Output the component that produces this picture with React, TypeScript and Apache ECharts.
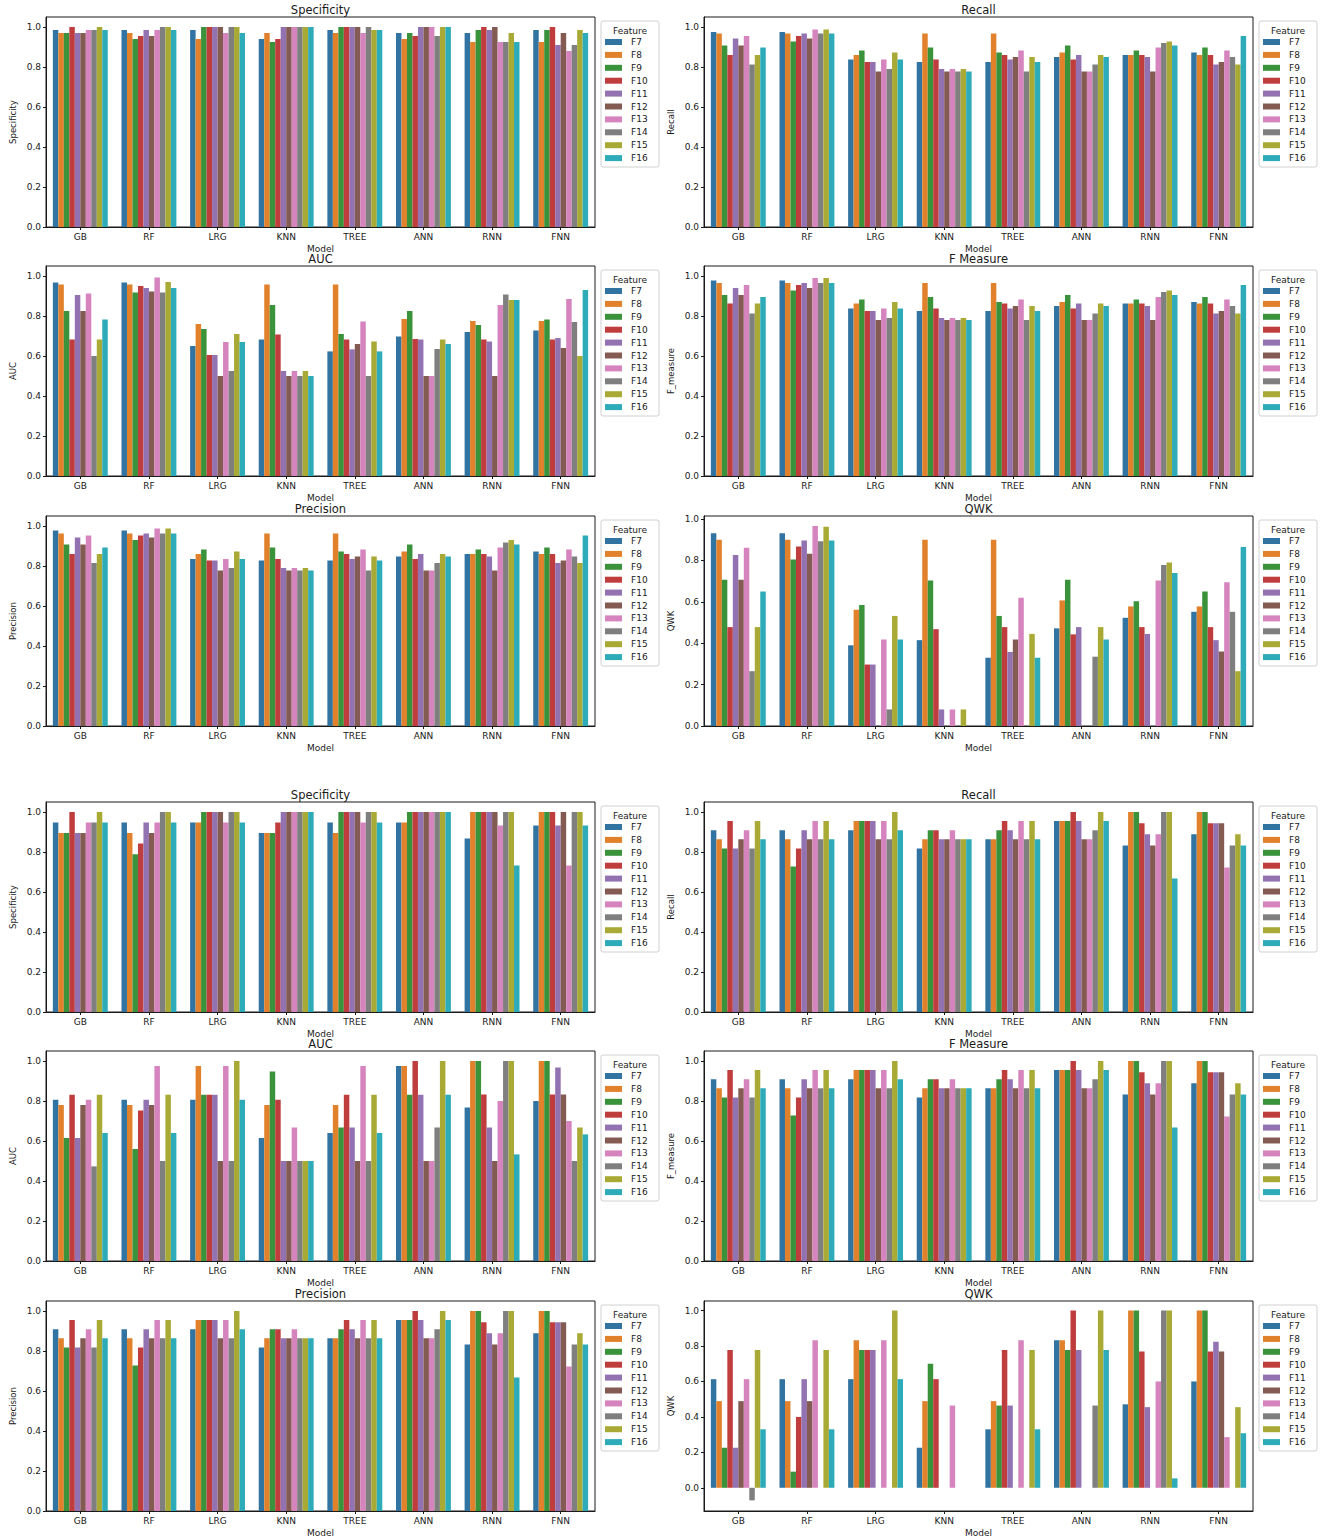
import React, { useEffect, useRef } from "react";
import * as echarts from "echarts";

const models = ["GB", "RF", "LRG", "KNN", "TREE", "ANN", "RNN", "FNN"];
const features = ["F7", "F8", "F9", "F10", "F11", "F12", "F13", "F14", "F15", "F16"];
const yTicks = [0, 0.2, 0.4, 0.6, 0.8, 1.0];

// each row = one model (GB..FNN), columns = F7..F16
const topSpecificity = [
  [0.985, 0.97, 0.97, 1.0, 0.97, 0.97, 0.985, 0.985, 1.0, 0.985],
  [0.985, 0.97, 0.94, 0.955, 0.985, 0.955, 0.985, 1.0, 1.0, 0.985],
  [0.985, 0.94, 1.0, 1.0, 1.0, 1.0, 0.97, 1.0, 1.0, 0.97],
  [0.94, 0.97, 0.925, 0.94, 1.0, 1.0, 1.0, 1.0, 1.0, 1.0],
  [0.985, 0.97, 1.0, 1.0, 1.0, 1.0, 0.97, 1.0, 0.985, 0.985],
  [0.97, 0.94, 0.97, 0.955, 1.0, 1.0, 1.0, 0.955, 1.0, 1.0],
  [0.97, 0.925, 0.985, 1.0, 0.985, 1.0, 0.925, 0.925, 0.97, 0.925],
  [0.985, 0.925, 0.985, 1.0, 0.91, 0.97, 0.88, 0.91, 0.985, 0.97],
];
const topRecall = [
  [0.975, 0.967, 0.908, 0.86, 0.942, 0.908, 0.955, 0.813, 0.86, 0.897],
  [0.975, 0.967, 0.928, 0.955, 0.967, 0.942, 0.988, 0.967, 0.988, 0.967],
  [0.838, 0.86, 0.883, 0.825, 0.825, 0.778, 0.838, 0.79, 0.872, 0.838],
  [0.825, 0.967, 0.897, 0.838, 0.79, 0.778, 0.79, 0.778, 0.79, 0.778],
  [0.825, 0.967, 0.872, 0.86, 0.838, 0.85, 0.883, 0.778, 0.85, 0.825],
  [0.85, 0.872, 0.908, 0.838, 0.86, 0.778, 0.778, 0.813, 0.86, 0.85],
  [0.86, 0.86, 0.883, 0.86, 0.85, 0.778, 0.897, 0.92, 0.928, 0.908],
  [0.872, 0.86, 0.897, 0.86, 0.813, 0.825, 0.883, 0.85, 0.813, 0.955],
];
const topAuc = [
  [0.967, 0.958, 0.825, 0.683, 0.905, 0.825, 0.913, 0.6, 0.683, 0.783],
  [0.967, 0.958, 0.917, 0.95, 0.94, 0.923, 0.992, 0.917, 0.97, 0.94],
  [0.65, 0.76, 0.735, 0.605, 0.605, 0.5, 0.67, 0.525, 0.71, 0.67],
  [0.683, 0.958, 0.855, 0.707, 0.525, 0.5, 0.525, 0.5, 0.525, 0.5],
  [0.623, 0.958, 0.71, 0.683, 0.633, 0.66, 0.772, 0.5, 0.673, 0.623],
  [0.697, 0.785, 0.825, 0.685, 0.683, 0.5, 0.5, 0.635, 0.683, 0.66],
  [0.72, 0.775, 0.755, 0.683, 0.673, 0.5, 0.855, 0.907, 0.88, 0.88],
  [0.727, 0.775, 0.783, 0.683, 0.69, 0.64, 0.885, 0.77, 0.6, 0.93],
];
const topFMeasure = [
  [0.978, 0.965, 0.905, 0.862, 0.94, 0.905, 0.955, 0.813, 0.862, 0.895],
  [0.978, 0.965, 0.927, 0.955, 0.965, 0.94, 0.99, 0.965, 0.99, 0.965],
  [0.838, 0.862, 0.882, 0.825, 0.825, 0.78, 0.838, 0.79, 0.87, 0.838],
  [0.825, 0.965, 0.895, 0.838, 0.79, 0.78, 0.79, 0.78, 0.79, 0.78],
  [0.825, 0.965, 0.87, 0.862, 0.838, 0.85, 0.882, 0.78, 0.85, 0.825],
  [0.85, 0.87, 0.905, 0.838, 0.862, 0.78, 0.78, 0.813, 0.862, 0.85],
  [0.862, 0.862, 0.882, 0.862, 0.85, 0.78, 0.895, 0.92, 0.927, 0.905],
  [0.87, 0.862, 0.895, 0.862, 0.813, 0.825, 0.882, 0.85, 0.813, 0.955],
];
const topPrecision = [
  [0.977, 0.963, 0.907, 0.86, 0.943, 0.907, 0.953, 0.815, 0.86, 0.893],
  [0.977, 0.963, 0.93, 0.953, 0.963, 0.943, 0.987, 0.963, 0.987, 0.963],
  [0.835, 0.86, 0.883, 0.828, 0.828, 0.778, 0.835, 0.79, 0.872, 0.835],
  [0.828, 0.963, 0.893, 0.835, 0.79, 0.778, 0.79, 0.778, 0.79, 0.778],
  [0.828, 0.963, 0.872, 0.86, 0.835, 0.848, 0.883, 0.778, 0.848, 0.828],
  [0.848, 0.872, 0.907, 0.835, 0.86, 0.778, 0.778, 0.815, 0.86, 0.848],
  [0.86, 0.86, 0.883, 0.86, 0.848, 0.778, 0.893, 0.918, 0.93, 0.907],
  [0.872, 0.86, 0.893, 0.86, 0.815, 0.828, 0.883, 0.848, 0.815, 0.953],
];
const topQwk = [
  [0.932, 0.9, 0.707, 0.478, 0.827, 0.707, 0.862, 0.265, 0.478, 0.65],
  [0.932, 0.9, 0.805, 0.868, 0.897, 0.833, 0.967, 0.893, 0.963, 0.897],
  [0.39, 0.562, 0.585, 0.297, 0.297, 0, 0.418, 0.08, 0.532, 0.418],
  [0.415, 0.9, 0.703, 0.468, 0.08, 0, 0.08, 0, 0.08, 0],
  [0.33, 0.9, 0.532, 0.478, 0.358, 0.418, 0.62, 0, 0.445, 0.33],
  [0.472, 0.607, 0.707, 0.443, 0.478, 0, 0, 0.335, 0.478, 0.418],
  [0.523, 0.578, 0.603, 0.478, 0.445, 0, 0.703, 0.778, 0.79, 0.74],
  [0.552, 0.578, 0.65, 0.478, 0.415, 0.36, 0.695, 0.552, 0.265, 0.865],
];
const bottomSpecificity = [
  [0.947, 0.895, 0.895, 1.0, 0.895, 0.895, 0.947, 0.947, 1.0, 0.947],
  [0.947, 0.895, 0.789, 0.842, 0.947, 0.895, 0.947, 1.0, 1.0, 0.947],
  [0.947, 0.947, 1.0, 1.0, 1.0, 1.0, 0.947, 1.0, 1.0, 0.947],
  [0.895, 0.895, 0.895, 0.947, 1.0, 1.0, 1.0, 1.0, 1.0, 1.0],
  [0.947, 0.895, 1.0, 1.0, 1.0, 1.0, 0.947, 1.0, 1.0, 0.947],
  [0.947, 0.947, 1.0, 1.0, 1.0, 1.0, 1.0, 1.0, 1.0, 1.0],
  [0.867, 1.0, 1.0, 1.0, 1.0, 1.0, 0.933, 1.0, 1.0, 0.733],
  [0.933, 1.0, 1.0, 1.0, 0.933, 1.0, 0.733, 1.0, 1.0, 0.933],
];
const bottomRecall = [
  [0.909, 0.864, 0.818, 0.955, 0.818, 0.864, 0.909, 0.818, 0.955, 0.864],
  [0.909, 0.864, 0.727, 0.818, 0.909, 0.864, 0.955, 0.864, 0.955, 0.864],
  [0.909, 0.955, 0.955, 0.955, 0.955, 0.864, 0.955, 0.864, 1.0, 0.909],
  [0.818, 0.864, 0.909, 0.909, 0.864, 0.864, 0.909, 0.864, 0.864, 0.864],
  [0.864, 0.864, 0.909, 0.955, 0.909, 0.864, 0.955, 0.864, 0.955, 0.864],
  [0.955, 0.955, 0.955, 1.0, 0.955, 0.864, 0.864, 0.909, 1.0, 0.955],
  [0.833, 1.0, 1.0, 0.944, 0.889, 0.833, 0.889, 1.0, 1.0, 0.667],
  [0.889, 1.0, 1.0, 0.944, 0.944, 0.944, 0.722, 0.833, 0.889, 0.833],
];
const bottomAuc = [
  [0.806, 0.78, 0.615, 0.831, 0.615, 0.78, 0.806, 0.473, 0.831, 0.64],
  [0.806, 0.78, 0.56, 0.752, 0.806, 0.78, 0.975, 0.5, 0.831, 0.64],
  [0.806, 0.975, 0.831, 0.831, 0.831, 0.5, 0.975, 0.5, 1.0, 0.806],
  [0.615, 0.78, 0.947, 0.806, 0.5, 0.5, 0.667, 0.5, 0.5, 0.5],
  [0.64, 0.78, 0.667, 0.831, 0.667, 0.5, 0.975, 0.5, 0.831, 0.64],
  [0.975, 0.975, 0.831, 1.0, 0.831, 0.5, 0.5, 0.667, 1.0, 0.831],
  [0.767, 1.0, 1.0, 0.833, 0.667, 0.5, 0.8, 1.0, 1.0, 0.533],
  [0.8, 1.0, 1.0, 0.833, 0.967, 0.833, 0.7, 0.5, 0.667, 0.633],
];
const bottomFMeasure = [
  [0.909, 0.864, 0.818, 0.955, 0.818, 0.864, 0.909, 0.818, 0.955, 0.864],
  [0.909, 0.864, 0.727, 0.818, 0.909, 0.864, 0.955, 0.864, 0.955, 0.864],
  [0.909, 0.955, 0.955, 0.955, 0.955, 0.864, 0.955, 0.864, 1.0, 0.909],
  [0.818, 0.864, 0.909, 0.909, 0.864, 0.864, 0.909, 0.864, 0.864, 0.864],
  [0.864, 0.864, 0.909, 0.955, 0.909, 0.864, 0.955, 0.864, 0.955, 0.864],
  [0.955, 0.955, 0.955, 1.0, 0.955, 0.864, 0.864, 0.909, 1.0, 0.955],
  [0.833, 1.0, 1.0, 0.944, 0.889, 0.833, 0.889, 1.0, 1.0, 0.667],
  [0.889, 1.0, 1.0, 0.944, 0.944, 0.944, 0.722, 0.833, 0.889, 0.833],
];
const bottomPrecision = [
  [0.909, 0.864, 0.818, 0.955, 0.818, 0.864, 0.909, 0.818, 0.955, 0.864],
  [0.909, 0.864, 0.727, 0.818, 0.909, 0.864, 0.955, 0.864, 0.955, 0.864],
  [0.909, 0.955, 0.955, 0.955, 0.955, 0.864, 0.955, 0.864, 1.0, 0.909],
  [0.818, 0.864, 0.909, 0.909, 0.864, 0.864, 0.909, 0.864, 0.864, 0.864],
  [0.864, 0.864, 0.909, 0.955, 0.909, 0.864, 0.955, 0.864, 0.955, 0.864],
  [0.955, 0.955, 0.955, 1.0, 0.955, 0.864, 0.864, 0.909, 1.0, 0.955],
  [0.833, 1.0, 1.0, 0.944, 0.889, 0.833, 0.889, 1.0, 1.0, 0.667],
  [0.889, 1.0, 1.0, 0.944, 0.944, 0.944, 0.722, 0.833, 0.889, 0.833],
];
const bottomQwk = [
  [0.613, 0.489, 0.226, 0.778, 0.226, 0.489, 0.613, -0.071, 0.778, 0.33],
  [0.613, 0.489, 0.091, 0.4, 0.613, 0.489, 0.833, 0, 0.778, 0.33],
  [0.613, 0.833, 0.778, 0.778, 0.778, 0, 0.833, 0, 1.0, 0.613],
  [0.226, 0.489, 0.7, 0.613, 0, 0, 0.464, 0, 0, 0],
  [0.33, 0.489, 0.464, 0.778, 0.464, 0, 0.833, 0, 0.778, 0.33],
  [0.833, 0.833, 0.778, 1.0, 0.778, 0, 0, 0.464, 1.0, 0.778],
  [0.471, 1.0, 1.0, 0.769, 0.455, 0, 0.6, 1.0, 1.0, 0.053],
  [0.6, 1.0, 1.0, 0.769, 0.824, 0.769, 0.286, 0, 0.455, 0.308],
];

const panels = [
  { title: "Specificity", yName: "Specificity", data: topSpecificity, min: 0, max: 1.05 },
  { title: "Recall", yName: "Recall", data: topRecall, min: 0, max: 1.05 },
  { title: "AUC", yName: "AUC", data: topAuc, min: 0, max: 1.05 },
  { title: "F Measure", yName: "F_measure", data: topFMeasure, min: 0, max: 1.05 },
  { title: "Precision", yName: "Precision", data: topPrecision, min: 0, max: 1.05 },
  { title: "QWK", yName: "QWK", data: topQwk, min: 0, max: 1.015 },
  { title: "Specificity", yName: "Specificity", data: bottomSpecificity, min: 0, max: 1.05 },
  { title: "Recall", yName: "Recall", data: bottomRecall, min: 0, max: 1.05 },
  { title: "AUC", yName: "AUC", data: bottomAuc, min: 0, max: 1.05 },
  { title: "F Measure", yName: "F_measure", data: bottomFMeasure, min: 0, max: 1.05 },
  { title: "Precision", yName: "Precision", data: bottomPrecision, min: 0, max: 1.05 },
  { title: "QWK", yName: "QWK", data: bottomQwk, min: -0.131, max: 1.054 },
];

const colors = ["#3274a1", "#e1812c", "#3a923a", "#c03d3e", "#9372b2", "#845b53", "#d684bd", "#7f7f7f", "#a9aa35", "#2eabb8"];
const FONT = "DejaVu Sans";
const INK = "#1a1a1a";
const colLeft = [46, 704];
const rowTop = [17, 266, 516, 802, 1051, 1301];
const PW = 549;
const PH = 210;

function buildOption() {
  const grid: any[] = [];
  const xAxis: any[] = [];
  const yAxis: any[] = [];
  const series: any[] = [];
  const legend: any[] = [];
  const graphic: any[] = [];

  panels.forEach((p, i) => {
    const block = Math.floor(i / 6);
    const r = block * 3 + Math.floor((i % 6) / 2);
    const c = i % 2;
    const left = colLeft[c];
    const top = rowTop[r];
    grid.push({
      left, top, width: PW, height: PH, show: true,
      borderColor: INK, borderWidth: 1, backgroundColor: "#fff", z: 0,
    });
    xAxis.push({
      type: "category", gridIndex: i, data: models,
      axisLine: { show: true, onZero: false, lineStyle: { color: INK, width: 1 } },
      axisTick: { show: true, alignWithLabel: true, length: 3, lineStyle: { color: INK } },
      axisLabel: { color: INK, fontSize: 9, fontFamily: FONT, margin: 5 },
      name: "Model", nameLocation: "middle", nameGap: 17,
      nameTextStyle: { color: INK, fontSize: 9, fontFamily: FONT },
      splitLine: { show: false },
    });
    yAxis.push({
      type: "value", gridIndex: i, min: p.min, max: p.max,
      axisLine: { show: true, lineStyle: { color: INK, width: 1 } },
      axisTick: { show: true, length: 3, customValues: yTicks, lineStyle: { color: INK } },
      axisLabel: {
        customValues: yTicks, color: INK, fontSize: 9, fontFamily: FONT, margin: 5,
        formatter: (v: number) => v.toFixed(1),
      },
      splitLine: { show: false },
      name: p.yName, nameLocation: "middle", nameGap: 29, nameRotate: 90,
      nameTextStyle: { color: INK, fontSize: 8.5, fontFamily: FONT },
    });
    features.forEach((f, k) => {
      series.push({
        type: "bar", name: f, xAxisIndex: i, yAxisIndex: i,
        data: p.data.map((row) => row[k]),
        itemStyle: { color: colors[k] },
        barGap: "0%", barCategoryGap: "20%", silent: true,
      });
    });
    const boxX = left + PW + 6;
    const boxY = top + 4;
    graphic.push({
      type: "rect", z: 1, silent: true,
      shape: { x: boxX, y: boxY, width: 58, height: 146, r: 2 },
      style: { fill: "#fff", stroke: "#d0d0d0", lineWidth: 1 },
    });
    graphic.push({
      type: "text", z: 2, silent: true, x: boxX + 29, y: boxY + 10,
      style: { text: "Feature", textAlign: "center", textVerticalAlign: "middle", font: `9px '${FONT}'`, fill: INK },
    });
    graphic.push({
      type: "text", z: 2, silent: true, x: left + PW / 2, y: top - 7,
      style: { text: p.title, textAlign: "center", textVerticalAlign: "middle", font: `11.5px '${FONT}'`, fill: INK },
    });
    legend.push({
      data: features, orient: "vertical", left: boxX + 4, top: top + 20,
      itemWidth: 17, itemHeight: 6, itemGap: 2.9, icon: "rect", padding: 0,
      selectedMode: false, z: 5,
      textStyle: { color: INK, fontSize: 9, fontFamily: FONT, lineHeight: 10, padding: [0, 0, 0, 4] },
    });
  });

  return {
    animation: false,
    backgroundColor: "#fff",
    textStyle: { fontFamily: FONT },
    grid, xAxis, yAxis, series, legend, graphic,
  };
}

export default function App() {
  const ref = useRef<HTMLDivElement>(null);
  useEffect(() => {
    if (!ref.current) return;
    const chart = echarts.init(ref.current, undefined, { renderer: "svg" });
    chart.setOption(buildOption() as any);
    return () => chart.dispose();
  }, []);
  return (
    <div
      ref={ref}
      style={{ position: "absolute", left: 0, top: 0, width: 1325, height: 1540, background: "#fff" }}
    />
  );
}
